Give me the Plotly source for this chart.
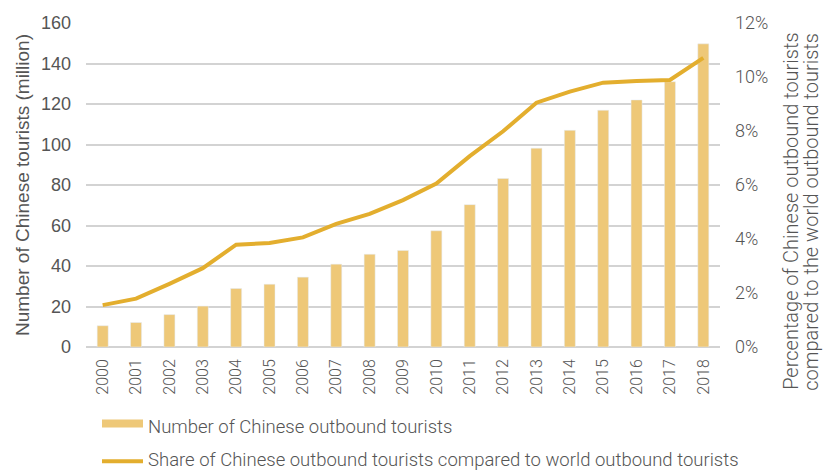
import plotly.graph_objects as go

# Chinese outbound tourism, 2000-2018
years = [str(y) for y in range(2000, 2019)]
tourists_million = [10.5, 12.1, 16.0, 20.2, 28.9, 31.0, 34.5, 40.9, 45.8, 47.7,
                    57.4, 70.3, 83.2, 98.2, 107.0, 116.9, 122.0, 131.0, 149.7]
share_of_world = [0.0155, 0.0179, 0.0234, 0.0292, 0.0379, 0.0385, 0.0406, 0.0456, 0.0493, 0.0544,
                  0.0605, 0.0707, 0.0799, 0.0905, 0.0946, 0.0979, 0.0985, 0.0989, 0.1071]

left_ticks = [0, 20, 40, 60, 80, 100, 120, 140, 160]
right_ticks = [0, 0.02, 0.04, 0.06, 0.08, 0.10, 0.12]

BAR_COLOR = "#EEC878"
LINE_COLOR = "#E3AE2E"
TEXT = "#555555"
GRID = "#D3D3D3"
ARIAL = "Liberation Sans, Arial, sans-serif"
DIN = "Roboto, sans-serif"

fig = go.Figure()
fig.add_trace(go.Bar(x=years, y=tourists_million, marker_color=BAR_COLOR,
                     width=0.33, name="Number of Chinese outbound tourists",
                     showlegend=False))
fig.add_trace(go.Scatter(x=years, y=share_of_world, yaxis="y2", mode="lines",
                         line=dict(color=LINE_COLOR, width=4),
                         name="Share of Chinese outbound tourists compared to world outbound tourists",
                         showlegend=False))

fig.update_layout(
    width=826, height=471,
    margin=dict(l=86, r=106, t=21, b=124),
    paper_bgcolor="white", plot_bgcolor="white",
    xaxis=dict(type="category", tickangle=-90, showgrid=False,
               tickfont=dict(family=DIN, size=16, color=TEXT, weight=300),
               ticks="", ticklen=0, showline=False, ticklabelstandoff=8),
    yaxis=dict(range=[0, 160], tickvals=left_ticks, showgrid=True, gridcolor=GRID,
               gridwidth=1.5, zeroline=True, zerolinecolor=GRID, zerolinewidth=2,
               tickfont=dict(family=ARIAL, size=18, color=TEXT),
               ticklabelstandoff=14,
               title=dict(text="Number of Chinese tourists (million)",
                          font=dict(family=ARIAL, size=19, color=TEXT), standoff=6)),
    yaxis2=dict(range=[0, 0.12], tickvals=right_ticks, tickformat=".0%",
                overlaying="y", side="right", showgrid=False, zeroline=False,
                tickfont=dict(family=DIN, size=18, color=TEXT, weight=300),
                ticklabelstandoff=14),
)

# Right-hand axis title, two rotated lines
right_title = ["Percentage of Chinese outbound tourists",
               "compared to the world outbound tourists"]
for line_text, xpos in zip(right_title, [791, 811]):
    fig.add_annotation(xref="paper", yref="paper", x=(xpos - 86) / 634,
                       y=(347 - 211) / 326, text=line_text, textangle=-90,
                       showarrow=False, xanchor="center", yanchor="middle",
                       font=dict(family=DIN, size=20, color=TEXT, weight=300))

# Custom legend below the plot area
def px_x(p):
    return (p - 86) / 634

def px_y(p):
    return (347 - p) / 326

fig.add_shape(type="rect", xref="paper", yref="paper",
              x0=px_x(102), x1=px_x(143), y0=px_y(428), y1=px_y(420),
              fillcolor=BAR_COLOR, line=dict(width=0))
fig.add_shape(type="line", xref="paper", yref="paper",
              x0=px_x(102), x1=px_x(143), y0=px_y(462), y1=px_y(462),
              line=dict(color=LINE_COLOR, width=4))
fig.add_annotation(xref="paper", yref="paper", x=px_x(146), y=px_y(427),
                   text="Number of Chinese outbound tourists", showarrow=False,
                   xanchor="left", yanchor="middle",
                   font=dict(family=DIN, size=18.5, color=TEXT, weight=300))
fig.add_annotation(xref="paper", yref="paper", x=px_x(146), y=px_y(461),
                   text="Share of Chinese outbound tourists compared to world outbound tourists",
                   showarrow=False, xanchor="left", yanchor="middle",
                   font=dict(family=DIN, size=18.5, color=TEXT, weight=300))

fig.write_html("out.html")
